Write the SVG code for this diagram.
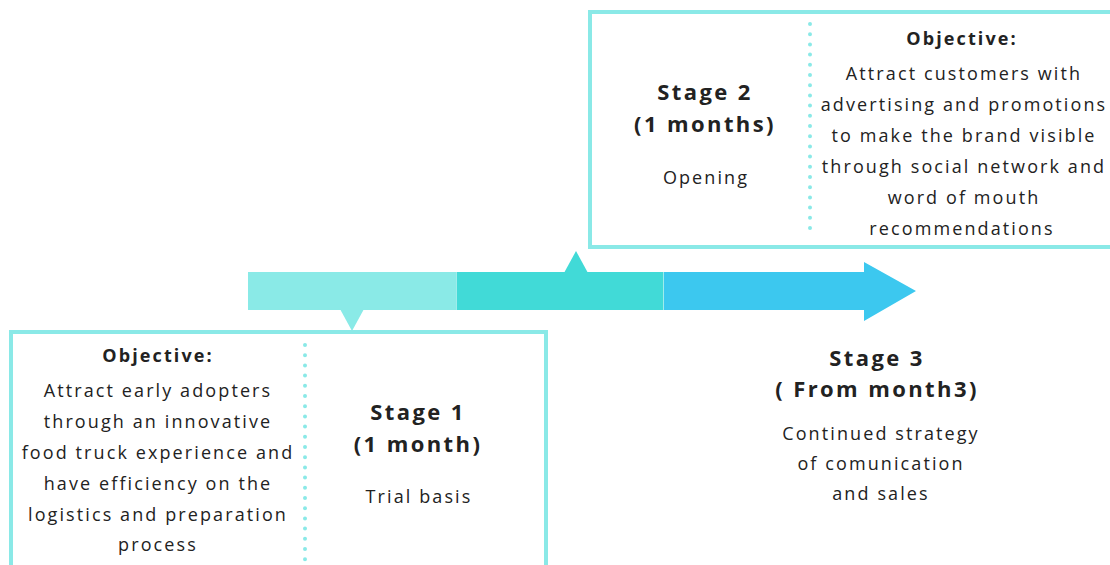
<svg xmlns="http://www.w3.org/2000/svg" width="1110" height="565" viewBox="0 0 1110 565">
  <style>
    .box { fill: #ffffff; stroke: #8ae9e7; stroke-width: 4; }
    .dots { fill: none; stroke: #8ae9e7; stroke-width: 4; stroke-linecap: round; stroke-dasharray: 0 10.2; }
    text { font-family: "Open Sans", "Liberation Sans", sans-serif; fill: #222222; text-anchor: middle; }
    .body { font-size: 18px; letter-spacing: 2.1px; }
    .head { font-size: 18px; font-weight: bold; letter-spacing: 2.1px; }
    .stage { font-size: 22px; font-weight: bold; letter-spacing: 2.4px; }
  </style>

  <!-- timeline arrow -->
  <g id="connectors">
    <rect x="248" y="272" width="208" height="38" fill="#8aeae7"/>
    <rect x="456.5" y="272" width="207" height="38" fill="#41dad7"/>
    <polygon points="664,272 864,272 864,262 916,291 864,321 864,310 664,310" fill="#3cc8ef"/>
    <!-- pointers -->
    <polygon points="340,309 364,309 352,331" fill="#8aeae7"/>
    <polygon points="564,273 588,273 576,251" fill="#41dad7"/>
  </g>

  <!-- stage 2 box -->
  <g id="stage2">
    <rect class="box" x="590" y="12" width="524" height="235"/>
    <line class="dots" x1="810" y1="24" x2="810" y2="237"/>
    <text class="stage" x="705" y="100">Stage 2</text>
    <text class="stage" x="705" y="132">(1 months)</text>
    <text class="body" x="706" y="184">Opening</text>
    <text class="head" x="962" y="45">Objective:</text>
    <text class="body" x="964" y="80">Attract customers with</text>
    <text class="body" x="964" y="111">advertising and promotions</text>
    <text class="body" x="964" y="142">to make the brand visible</text>
    <text class="body" x="964" y="173">through social network and</text>
    <text class="body" x="964" y="204">word of mouth</text>
    <text class="body" x="962" y="235">recommendations</text>
  </g>

  <!-- stage 1 box -->
  <g id="stage1">
    <rect class="box" x="11" y="332" width="535" height="245"/>
    <line class="dots" x1="305" y1="345" x2="305" y2="560"/>
    <text class="head" x="158" y="362">Objective:</text>
    <text class="body" x="158" y="397">Attract early adopters</text>
    <text class="body" x="158" y="428">through an innovative</text>
    <text class="body" x="158" y="459">food truck experience and</text>
    <text class="body" x="158" y="490">have efficiency on the</text>
    <text class="body" x="158" y="521">logistics and preparation</text>
    <text class="body" x="158" y="551">process</text>
    <text class="stage" x="418" y="420">Stage 1</text>
    <text class="stage" x="418" y="452">(1 month)</text>
    <text class="body" x="419" y="503">Trial basis</text>
  </g>

  <!-- stage 3 label -->
  <g id="stage3">
    <text class="stage" x="877" y="366">Stage 3</text>
    <text class="stage" x="877" y="397">( From month3)</text>
    <text class="body" x="881" y="440">Continued strategy</text>
    <text class="body" x="881" y="470">of comunication</text>
    <text class="body" x="881" y="500">and sales</text>
  </g>
</svg>
